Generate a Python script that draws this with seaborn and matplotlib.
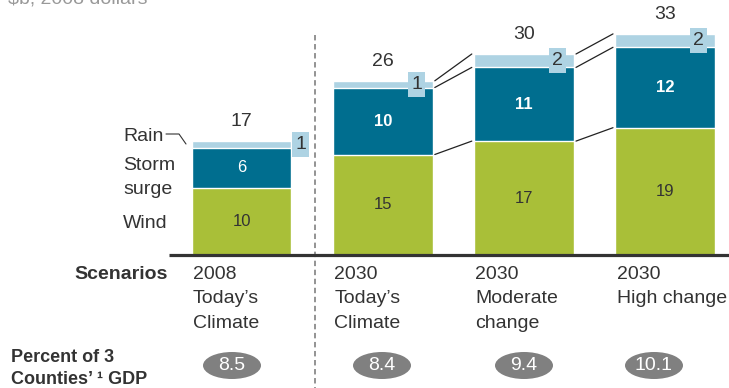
import matplotlib
matplotlib.use("Agg")
import matplotlib.pyplot as plt
from matplotlib.patches import Ellipse, Rectangle
import pandas as pd
import seaborn as sns

# ---- data -------------------------------------------------------------
scenario_keys = ["2008 Today's Climate", "2030 Today's Climate",
                 "2030 Moderate change", "2030 High change"]
years = ["2008", "2030", "2030", "2030"]
descriptions = [["Today’s", "Climate"], ["Today’s", "Climate"],
                ["Moderate", "change"], ["High change"]]
wind = [10, 15, 17, 19]
storm = [6, 10, 11, 12]
rain = [1, 1, 2, 2]
totals = [17, 26, 30, 33]
gdp_share = [8.5, 8.4, 9.4, 10.1]

# ---- style ------------------------------------------------------------
sns.set_style("white")
plt.rcParams["font.family"] = ["Liberation Sans", "DejaVu Sans"]

GREEN = "#A9BF38"
TEAL = "#006E8F"
LIGHT = "#AED3E3"
PILL = "#808080"
TEXT = "#333333"

df = pd.DataFrame({"scenario": scenario_keys, "wind": wind,
                   "storm": storm, "rain": rain})
df["wind_storm"] = df["wind"] + df["storm"]
df["total"] = df["wind_storm"] + df["rain"]

W, H = 729, 388
fig = plt.figure(figsize=(W / 100, H / 100), dpi=100)
ax = fig.add_axes([0, 0, 1, 1])

# layout helpers: canvas pixels (from top-left) -> data coordinates
X0, XS, Y0, YS = 241.5, 141.2, 255.0, 6.7
def px(x):
    return (x - X0) / XS
def py(y):
    return (Y0 - y) / YS

BAR_W = 0.708

# stacked bars drawn back to front from cumulative totals
for col, colr in [("total", LIGHT), ("wind_storm", TEAL), ("wind", GREEN)]:
    sns.barplot(data=df, x="scenario", y=col, order=scenario_keys,
                color=colr, saturation=1, width=BAR_W, errorbar=None,
                edgecolor="white", linewidth=1.0, ax=ax)

ax.set_xlim(px(0), px(W))
ax.set_ylim(py(H), py(0))
ax.axis("off")

# baseline and scenario divider
ax.plot([px(169), px(W)], [0, 0], color="#333333", lw=2.3,
        solid_capstyle="butt", zorder=5)
ax.plot([px(315), px(315)], [py(35), py(H)], color="#8a8a8a", lw=1.3,
        linestyle=(0, (3, 2)), zorder=1)

# connectors between the 2030 scenarios
gap = 0.015
for i in (1, 2):
    for lvl in ("wind", "wind_storm", "total"):
        ax.plot([i + BAR_W / 2 + gap, i + 1 - BAR_W / 2 - gap],
                [df[lvl][i], df[lvl][i + 1]], color="#222222", lw=0.9)

# value labels
for i in range(len(scenario_keys)):
    ax.text(i, wind[i] / 2, str(wind[i]), ha="center", va="center",
            fontsize=12, color=TEXT)
    ax.text(i, wind[i] + storm[i] / 2, str(storm[i]), ha="center",
            va="center", fontsize=12, color="white",
            fontweight="normal" if i == 0 else "bold")
    ax.text(i, totals[i] + 2.9, str(totals[i]), ha="center", va="center",
            fontsize=14, color=TEXT)
    # rain value tag
    bw, bh = 17 / XS, 25 / YS
    cx = i + BAR_W / 2 + 0.065 if i == 0 else i + BAR_W / 2 - 0.115
    cy = wind[i] + storm[i] + rain[i] / 2
    ax.add_patch(Rectangle((cx - bw / 2, cy - bh / 2), bw, bh,
                           facecolor=LIGHT, edgecolor="none", zorder=6))
    ax.text(cx, cy, str(rain[i]), ha="center", va="center", fontsize=14,
            color=TEXT, zorder=7)

    # scenario labels
    lx = i - BAR_W / 2 + 0.01
    lines = [years[i]] + descriptions[i]
    for k, line in enumerate(lines):
        ax.text(lx, py(279 + 24.3 * k), line, ha="left", va="baseline",
                fontsize=14, color=TEXT)

# GDP share pills
pill_x = [px(232), px(382), px(524), px(654)]
for x, v in zip(pill_x, gdp_share):
    ax.add_patch(Ellipse((x, py(365.5)), 58 / XS, 27 / YS,
                         facecolor=PILL, edgecolor="none"))
    ax.text(x, py(365.5), f"{v:.1f}", ha="center", va="center",
            fontsize=14, color="white")

# series names on the left
ax.text(px(123), py(141), "Rain", ha="left", va="baseline", fontsize=14,
        color=TEXT)
ax.plot([px(166), px(179), px(186)], [py(134), py(134), py(144)],
        color=TEXT, lw=0.8)
ax.text(px(123), py(170), "Storm", ha="left", va="baseline", fontsize=14,
        color=TEXT)
ax.text(px(123), py(194), "surge", ha="left", va="baseline", fontsize=14,
        color=TEXT)
ax.text(px(123), py(228), "Wind", ha="left", va="baseline", fontsize=14,
        color=TEXT)

# row headers
ax.text(px(168), py(279), "Scenarios", ha="right", va="baseline",
        fontsize=14, fontweight="bold", color=TEXT)
ax.text(px(11), py(362), "Percent of 3", ha="left", va="baseline",
        fontsize=13, fontweight="bold", color=TEXT)
ax.text(px(11), py(384.5), "Counties’ ¹ GDP", ha="left", va="baseline",
        fontsize=13, fontweight="bold", color=TEXT)

# unit note at the top
fig.text(8 / W, 1 - 4 / H, "\\$b, 2008 dollars", ha="left", va="baseline",
         fontsize=14, color="#999999")

fig.savefig("out.png", dpi=100)
